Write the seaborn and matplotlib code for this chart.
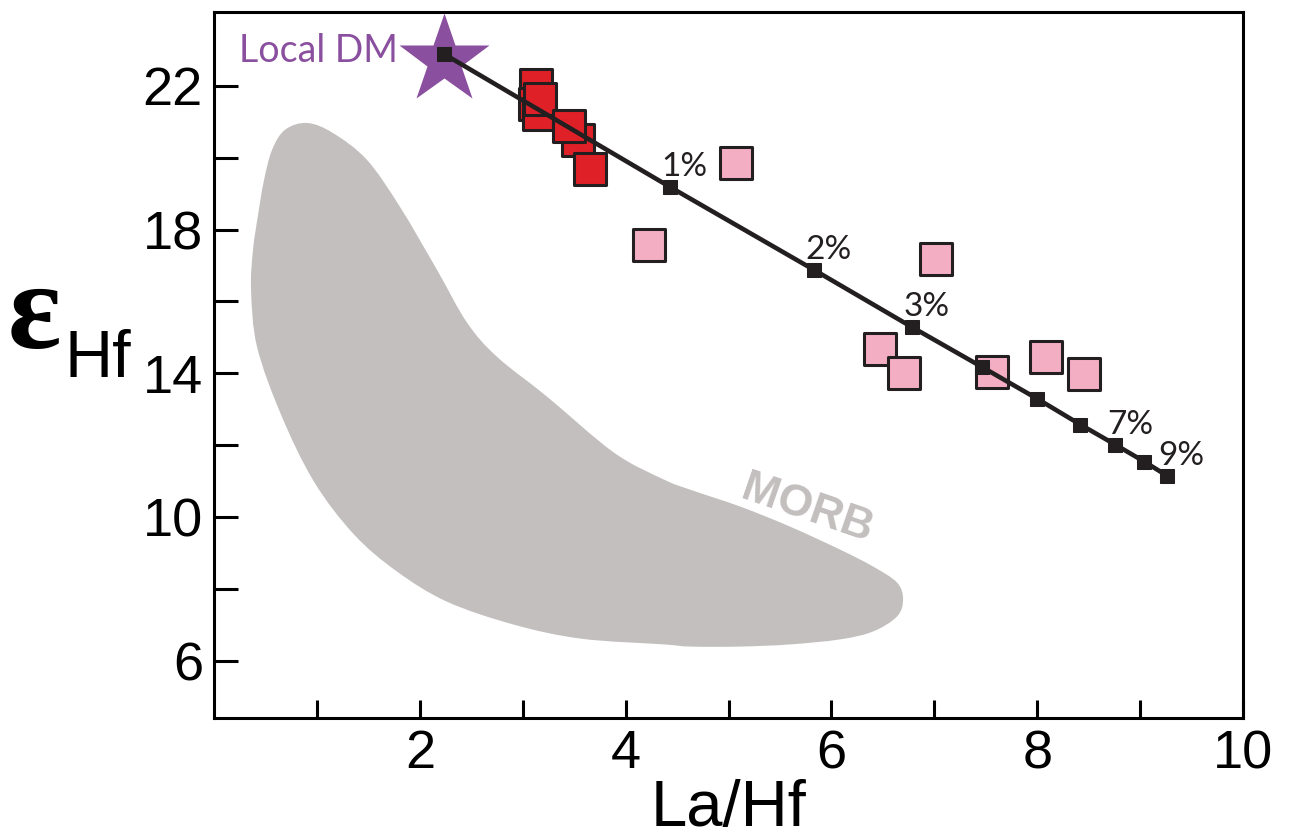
import matplotlib
matplotlib.use("Agg")
import matplotlib.pyplot as plt
from matplotlib.patches import PathPatch
from matplotlib.path import Path
import numpy as np
import pandas as pd
import seaborn as sns

# Red samples (La/Hf, eHf)
red_la_hf = [3.13, 3.12, 3.16, 3.17, 3.54, 3.45, 3.65]
red_ehf = [22.03, 21.50, 21.22, 21.64, 20.50, 20.89, 19.69]

# Pink samples
pink_la_hf = [5.07, 4.23, 7.02, 6.47, 6.71, 7.56, 8.09, 8.45]
pink_ehf = [19.86, 17.58, 17.19, 14.67, 14.00, 14.03, 14.45, 13.98]

# Melting model curve from the local depleted mantle
model_la_hf = [2.235, 4.43, 5.83, 6.78, 7.46, 8.00, 8.42, 8.76, 9.04, 9.26]
model_ehf = [22.89, 19.19, 16.88, 15.29, 14.18, 13.29, 12.57, 12.01, 11.54, 11.15]
model_labels = ["", "1%", "2%", "3%", "", "", "", "7%", "", "9%"]

# Local DM star
dm_la_hf = [2.235]
dm_ehf = [22.72]

# MORB field outline
morb_la_hf = [0.904, 1.156, 1.487, 1.808, 2.167, 2.459, 2.750, 3.236, 3.887, 4.373,
              4.626, 5.112, 5.598, 6.084, 6.404, 6.638, 6.696, 6.638, 6.404, 6.084,
              5.598, 5.112, 4.626, 4.373, 3.567, 2.915, 2.264, 1.778, 1.361, 0.972,
              0.651, 0.418, 0.360, 0.379, 0.428, 0.486, 0.564, 0.690]
morb_ehf = [20.97, 20.69, 19.94, 18.63, 16.88, 15.41, 14.46, 13.35, 11.79, 11.04,
            10.76, 10.29, 9.73, 9.09, 8.62, 8.17, 7.70, 7.23, 6.81, 6.59,
            6.45, 6.39, 6.39, 6.45, 6.61, 7.00, 7.64, 8.48, 9.51, 10.98,
            12.85, 14.74, 16.32, 17.44, 18.41, 19.38, 20.22, 20.78]

x_major = [2, 4, 6, 8, 10]
x_minor = [1, 3, 5, 7, 9]
y_major = [6, 10, 14, 18, 22]
y_minor = [8, 12, 16, 20]


def smooth_closed_path(xs, ys):
    """Closed path with cubic Bezier segments passing through every vertex."""
    pts = np.column_stack([xs, ys])
    n = len(pts)
    verts = [pts[0]]
    codes = [Path.MOVETO]
    for i in range(n):
        p0, p1, p2, p3 = pts[i - 1], pts[i], pts[(i + 1) % n], pts[(i + 2) % n]
        verts += [p1 + (p2 - p0) / 6.0, p2 - (p3 - p1) / 6.0, p2]
        codes += [Path.CURVE4] * 3
    verts.append(pts[0])
    codes.append(Path.CLOSEPOLY)
    return Path(verts, codes)


sns.set_theme(style="white")
plt.rcParams["font.family"] = ["Liberation Sans", "DejaVu Sans"]

fig = plt.figure(figsize=(12.9, 8.4), dpi=100)
ax = fig.add_axes([0.1659, 0.1452, 0.9636 - 0.1659, 0.9857 - 0.1452])

morb_color = "#c2bfbe"
ax.add_patch(PathPatch(smooth_closed_path(morb_la_hf, morb_ehf),
                       facecolor=morb_color, edgecolor="none", zorder=1))
ax.text(5.76, 10.20, "MORB", rotation=-19, color=morb_color, fontsize=32,
        fontweight="bold", ha="center", va="center", zorder=1)

red_df = pd.DataFrame({"x": red_la_hf, "y": red_ehf})
pink_df = pd.DataFrame({"x": pink_la_hf, "y": pink_ehf})
sns.scatterplot(data=pink_df, x="x", y="y", marker="s", s=560, color="#f4aec3",
                edgecolor="#231f20", linewidth=2.2, ax=ax, zorder=3)
sns.scatterplot(data=red_df, x="x", y="y", marker="s", s=560, color="#e02027",
                edgecolor="#231f20", linewidth=2.2, ax=ax, zorder=3)

ax.plot(dm_la_hf, dm_ehf, marker="*", ms=68, color="#8a4f9e", mec="none",
        ls="none", zorder=4)

model_df = pd.DataFrame({"x": model_la_hf, "y": model_ehf})
sns.lineplot(data=model_df, x="x", y="y", sort=False, color="#231f20", lw=3.3,
             marker="s", markersize=10, markeredgecolor="#231f20", ax=ax, zorder=5)

for xv, yv, lab in zip(model_la_hf, model_ehf, model_labels):
    if lab:
        ax.annotate(lab, (xv, yv), xytext=(-6, 8), textcoords="offset points",
                    ha="left", va="baseline", fontsize=24, color="#231f20",
                    family=["Lato", "DejaVu Sans"], zorder=6)

ax.text(0.243, 22.67, "Local DM", color="#8a4f9e", fontsize=27,
        family=["Lato", "DejaVu Sans"], ha="left", va="baseline", zorder=6)

ax.set_xlim(0, 10)
ax.set_ylim(4.4, 24.06)
ax.set_xticks(x_major)
ax.set_xticks(x_minor, minor=True)
ax.set_yticks(y_major)
ax.set_yticks(y_minor, minor=True)
ax.set_xticklabels([str(v) for v in x_major])
ax.set_yticklabels([str(v) for v in y_major])

ax.tick_params(axis="both", which="both", direction="in", width=2.2,
               color="black", labelsize=39, labelcolor="black", pad=8)
ax.tick_params(axis="y", which="both", length=17, left=True)
ax.tick_params(axis="x", which="both", length=13, bottom=True)

for sp in ax.spines.values():
    sp.set_visible(True)
    sp.set_linewidth(2.2)
    sp.set_color("black")

ax.set_xlabel("")
ax.set_ylabel("")
fig.text(728 / 1290, 1 - 826 / 840, "La/Hf", fontsize=47, ha="center",
         va="baseline", color="black")

fig.text(8 / 1290, 1 - 348 / 840, "ε", fontsize=90, fontweight="bold",
         family=["Liberation Serif", "DejaVu Serif"], ha="left", va="baseline",
         color="black")
fig.text(65 / 1290, 1 - 377 / 840, "Hf", fontsize=48, ha="left", va="baseline",
         color="black")

fig.savefig("out.png", dpi=100, facecolor="white")
